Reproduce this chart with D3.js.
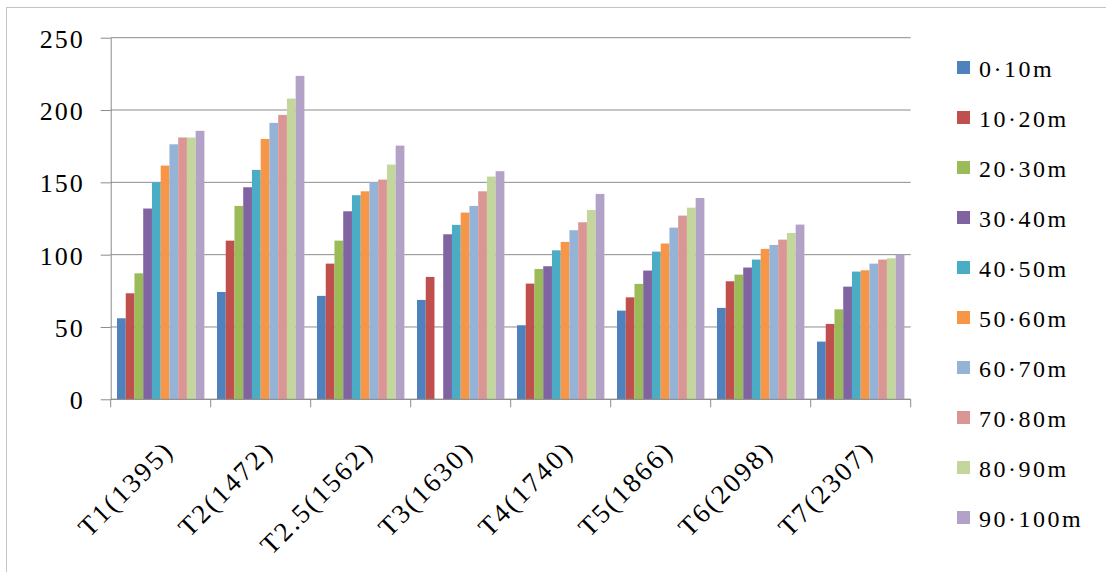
<!DOCTYPE html>
<html>
<head>
<meta charset="utf-8">
<script src="https://cdn.jsdelivr.net/npm/d3@7"></script>
<style>
body { margin: 0; background: #fff; }
svg text { font-family: "Liberation Serif", "DejaVu Serif", serif; }
</style>
</head>
<body>
<div id="chart"></div>
<script>
const categories = ["T1(1395)", "T2(1472)", "T2.5(1562)", "T3(1630)", "T4(1740)", "T5(1866)", "T6(2098)", "T7(2307)"];
const bands = ["0·10m", "10·20m", "20·30m", "30·40m", "40·50m", "50·60m", "60·70m", "70·80m", "80·90m", "90·100m"];

// one array per depth band, values in category order (T3 has no 20-30m bar)
const d0_10   = [56, 74.2, 71.5, 68.7, 51.2, 61.3, 63.2, 39.9];
const d10_20  = [73.3, 109.7, 93.8, 84.6, 80, 70.5, 81.6, 52.1];
const d20_30  = [87.1, 133.7, 109.7, null, 90.1, 79.8, 86.2, 62.2];
const d30_40  = [131.9, 146.6, 130, 114.1, 92, 89, 91.1, 77.9];
const d40_50  = [150.1, 158.6, 141.1, 120.6, 103, 102.1, 96.6, 88.3];
const d50_60  = [161.6, 180, 143.8, 129.1, 108.8, 107.7, 104, 89.2];
const d60_70  = [176.3, 191.1, 150.1, 133.7, 116.9, 118.7, 106.7, 93.8];
const d70_80  = [181, 196.6, 151.9, 143.8, 122.4, 127, 110.4, 96.6];
const d80_90  = [181, 207.9, 162.3, 154, 130.9, 132.5, 115, 97.5];
const d90_100 = [185.6, 223.6, 175.4, 157.7, 142, 139.2, 120.8, 100];

const yTicks = [0, 50, 100, 150, 200, 250];

const series = [d0_10, d10_20, d20_30, d30_40, d40_50, d50_60, d60_70, d70_80, d80_90, d90_100];
const colors = ["#4F81BD", "#C0504D", "#9BBB59", "#8064A2", "#4BACC6", "#F79646",
                "#95B3D7", "#DA9694", "#C3D69B", "#B3A2C7"];

const width = 1106, height = 572;
const plot = { left: 110.7, right: 910.7, top: 37.7, bottom: 399.3 };

const svg = d3.select("#chart")
    .append("svg")
    .attr("width", width)
    .attr("height", height);

// chart area frame
svg.append("rect")
    .attr("x", 6.5)
    .attr("y", 7.5)
    .attr("width", width + 10)
    .attr("height", height + 10)
    .attr("fill", "#fff")
    .attr("stroke", "#c4c4c4");

const x0 = d3.scaleBand()
    .domain(categories)
    .range([plot.left, plot.right]);

const x1 = d3.scaleBand()
    .domain(bands)
    .range([6.3, x0.bandwidth() - 6.3]);

const y = d3.scaleLinear()
    .domain([0, 250])
    .range([plot.bottom, plot.top]);

// gridlines
svg.append("g")
    .selectAll("line")
    .data(yTicks)
    .join("line")
    .attr("x1", plot.left)
    .attr("x2", plot.right)
    .attr("y1", d => y(d))
    .attr("y2", d => y(d))
    .attr("stroke", "#8c8c8c")
    .attr("stroke-width", 1);

// bars
const groups = svg.append("g")
    .selectAll("g")
    .data(categories)
    .join("g")
    .attr("transform", d => `translate(${x0(d)},0)`);

groups.selectAll("rect")
    .data((c, i) => bands.map((b, j) => ({ band: b, j: j, value: series[j][i] }))
        .filter(d => d.value != null))
    .join("rect")
    .attr("x", d => x1(d.band))
    .attr("width", x1.bandwidth())
    .attr("y", d => y(d.value))
    .attr("height", d => y(0) - y(d.value))
    .attr("fill", d => colors[d.j]);

// y axis
const yAxis = svg.append("g")
    .attr("transform", `translate(${plot.left},0)`)
    .call(d3.axisLeft(y).tickValues(yTicks).tickSize(10).tickSizeOuter(0).tickPadding(16))
    .attr("font-family", null)
    .attr("font-size", null);
yAxis.select(".domain").attr("stroke", "#8c8c8c");
yAxis.selectAll(".tick line").attr("stroke", "#8c8c8c");
yAxis.selectAll(".tick text")
    .attr("fill", "#000")
    .attr("dy", "0.36em")
    .style("font-size", "26px")
    .style("letter-spacing", "2px");

// x axis baseline and category boundary ticks
svg.append("line")
    .attr("x1", plot.left)
    .attr("x2", plot.right)
    .attr("y1", y(0))
    .attr("y2", y(0))
    .attr("stroke", "#8c8c8c");

svg.append("g")
    .selectAll("line")
    .data(categories.map(c => x0(c)).concat([x0.range()[1]]))
    .join("line")
    .attr("x1", d => d)
    .attr("x2", d => d)
    .attr("y1", y(0))
    .attr("y2", y(0) + 8)
    .attr("stroke", "#8c8c8c");

// rotated category labels
svg.append("g")
    .selectAll("text")
    .data(categories)
    .join("text")
    .attr("transform", d => `translate(${x0(d) + x0.bandwidth() / 2 + 8},${y(0) + 46}) rotate(-45)`)
    .attr("text-anchor", "end")
    .attr("dy", "0.35em")
    .style("font-size", "27px")
    .style("letter-spacing", "2.5px")
    .attr("fill", "#000")
    .text(d => d);

// legend
const legend = svg.append("g")
    .selectAll("g")
    .data(bands)
    .join("g")
    .attr("transform", (d, i) => `translate(957,${68 + i * 50})`);

legend.append("rect")
    .attr("x", 0)
    .attr("y", -7)
    .attr("width", 13)
    .attr("height", 13)
    .attr("fill", (d, i) => colors[i]);

legend.append("text")
    .attr("x", 22)
    .attr("dy", "0.36em")
    .style("font-size", "24px")
    .style("letter-spacing", "2.5px")
    .attr("fill", "#000")
    .text(d => d);
</script>
</body>
</html>
